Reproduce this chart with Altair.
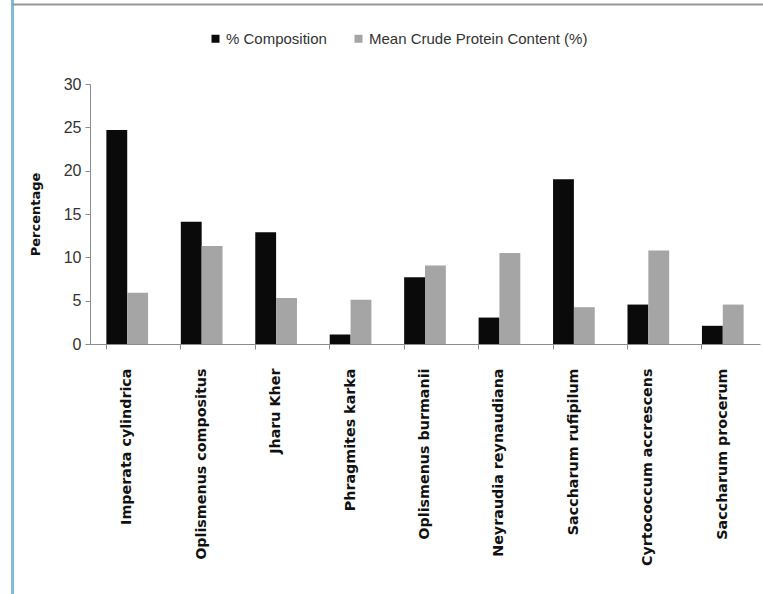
import altair as alt
import pandas as pd

# Grass species surveyed
species = [
    "Imperata cylindrica",
    "Oplismenus compositus",
    "Jharu Kher",
    "Phragmites karka",
    "Oplismenus burmanii",
    "Neyraudia reynaudiana",
    "Saccharum rufipilum",
    "Cyrtococcum accrescens",
    "Saccharum procerum",
]

# Share of each species in the sward (%)
composition = [24.7, 14.1, 12.9, 1.1, 7.7, 3.05, 19.0, 4.55, 2.1]
# Mean crude protein content of each species (%)
crude_protein = [5.9, 11.3, 5.3, 5.1, 9.05, 10.5, 4.25, 10.8, 4.55]

series_names = ["% Composition", "Mean  Crude Protein Content (%)"]
series_colors = ["#0a0a0a", "#a5a5a5"]

rows = []
for name, c, p in zip(species, composition, crude_protein):
    rows.append({"species": name, "series": series_names[0], "value": c})
    rows.append({"species": name, "series": series_names[1], "value": p})
df = pd.DataFrame(rows)

LABEL_FONT = "Liberation Sans, Arial, sans-serif"
BOLD_FONT = "DejaVu Sans, Verdana, sans-serif"

x_scale = alt.Scale(domain=species, paddingInner=0.44, paddingOuter=0.22)

bars = alt.Chart(df).mark_bar().encode(
    x=alt.X(
        "species:N",
        scale=x_scale,
        sort=species,
        axis=alt.Axis(
            orient="bottom",
            title=None,
            labelAngle=270,
            labelFont=BOLD_FONT,
            labelFontWeight="bold",
            labelFontSize=14.3,
            labelColor="#111111",
            labelPadding=24,
            labelLimit=300,
            ticks=False,
            domain=True,
            domainColor="#8c8c8c",
            domainWidth=1,
        ),
    ),
    xOffset=alt.XOffset("series:N", sort=series_names, scale=alt.Scale(domain=series_names)),
    y=alt.Y(
        "value:Q",
        scale=alt.Scale(domain=[0, 30], nice=False),
        axis=alt.Axis(
            values=[0, 5, 10, 15, 20, 25, 30],
            title="Percentage",
            titleFont=BOLD_FONT,
            titleFontWeight="bold",
            titleFontSize=13,
            titleColor="#111111",
            titlePadding=21,
            labelFont=LABEL_FONT,
            labelFontSize=16,
            labelColor="#333333",
            labelPadding=4,
            tickSize=5,
            tickColor="#8c8c8c",
            domainColor="#8c8c8c",
            grid=False,
        ),
    ),
    color=alt.Color(
        "series:N",
        sort=series_names,
        scale=alt.Scale(domain=series_names, range=series_colors),
        legend=alt.Legend(
            title=None,
            orient="none",
            direction="horizontal",
            legendX=118,
            legendY=-53,
            symbolType="square",
            symbolSize=64,
            symbolStrokeWidth=0,
            labelFont=LABEL_FONT,
            labelFontSize=15,
            labelColor="#333333",
            labelOffset=3,
            labelLimit=400,
            columnPadding=24,
        ),
    ),
)

# Tick marks on the category boundaries
boundary_ticks = alt.Chart(df).mark_bar(opacity=0).encode(
    x=alt.X(
        "species:N",
        scale=x_scale,
        sort=species,
        axis=alt.Axis(
            orient="bottom",
            title=None,
            labels=False,
            domain=False,
            ticks=True,
            tickSize=5,
            tickColor="#8c8c8c",
            bandPosition=0,
        ),
    ),
    y=alt.Y("value:Q"),
)

frame_src = pd.DataFrame({"k": [0]})
left_edge = alt.Chart(frame_src).mark_rule(color="#7fbdd2", strokeWidth=3).encode(
    x=alt.value(-77.5), y=alt.value(-84), y2=alt.value(510)
)
top_edge = alt.Chart(frame_src).mark_rule(color="#969696", strokeWidth=2).encode(
    x=alt.value(-77.5), x2=alt.value(673), y=alt.value(-79.5)
)

chart = (
    alt.layer(bars, boundary_ticks, left_edge, top_edge)
    .resolve_axis(x="independent")
    .properties(
        width=670,
        height=260,
        autosize=alt.AutoSizeParams(type="none"),
        padding={"left": 90, "top": 84, "right": 3, "bottom": 250},
        background="white",
    )
    .configure_view(strokeWidth=0)
)

chart.save("out.html", embed_options={"renderer": "svg", "actions": False})
